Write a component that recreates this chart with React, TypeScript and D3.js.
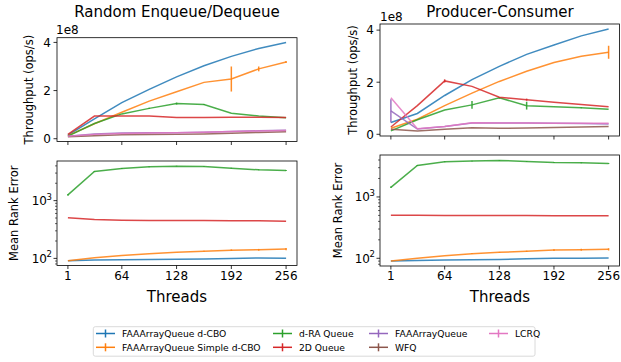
import React from "react";
import * as d3 from "d3";

// ---------- data ----------
const threads = [1, 32, 64, 96, 128, 160, 192, 224, 256];
const xTicks = [1, 64, 128, 192, 256];

const seriesNames = [
  "FAAArrayQueue d-CBO",
  "FAAArrayQueue Simple d-CBO",
  "d-RA Queue",
  "2D Queue",
  "FAAArrayQueue",
  "WFQ",
  "LCRQ",
];
const seriesColors = ["#1f77b4", "#ff7f0e", "#2ca02c", "#d62728", "#9467bd", "#8c564b", "#e377c2"];

// Throughput (x1e8 ops/s) — Random Enqueue/Dequeue
const tpRandBlue = [0.15, 0.82, 1.5, 2.05, 2.57, 3.03, 3.42, 3.75, 4.0];
const tpRandOrange = [0.13, 0.62, 1.1, 1.56, 1.95, 2.34, 2.48, 2.9, 3.19];
const tpRandOrangeErr = [0, 0, 0, 0, 0, 0, 0.52, 0.1, 0.04];
const tpRandGreen = [0.11, 0.63, 1.03, 1.26, 1.46, 1.42, 1.06, 0.94, 0.87];
const tpRandGreenErr = [0, 0, 0, 0.03, 0.04, 0.02, 0, 0, 0];
const tpRandRed = [0.18, 0.94, 0.94, 0.94, 0.88, 0.88, 0.89, 0.89, 0.88];
const tpRandPurple = [0.1, 0.2, 0.24, 0.25, 0.25, 0.27, 0.3, 0.33, 0.35];
const tpRandBrown = [0.08, 0.12, 0.16, 0.17, 0.18, 0.2, 0.23, 0.26, 0.29];
const tpRandPink = [0.1, 0.18, 0.22, 0.24, 0.25, 0.27, 0.3, 0.32, 0.34];

// Throughput (x1e8 ops/s) — Producer-Consumer
const tpProdBlue = [0.45, 0.8, 1.49, 2.1, 2.61, 3.07, 3.43, 3.78, 4.04];
const tpProdOrange = [0.23, 0.58, 1.1, 1.58, 2.03, 2.42, 2.76, 3.0, 3.15];
const tpProdOrangeErr = [0, 0, 0, 0, 0, 0, 0, 0, 0.25];
const tpProdGreen = [0.13, 0.56, 0.93, 1.13, 1.4, 1.1, 1.06, 1.02, 0.96];
const tpProdGreenErr = [0, 0, 0, 0.15, 0.03, 0.15, 0, 0.02, 0];
const tpProdRed = [0.28, 1.1, 2.05, 1.84, 1.42, 1.33, 1.23, 1.14, 1.06];
const tpProdRedErr = [0, 0, 0.06, 0, 0, 0.04, 0, 0, 0];
const tpProdPurple = [0.9, 0.2, 0.3, 0.43, 0.43, 0.43, 0.42, 0.41, 0.4];
const tpProdPurpleErr = [0.45, 0, 0, 0, 0, 0, 0, 0, 0];
const tpProdBrown = [0.19, 0.13, 0.19, 0.25, 0.23, 0.24, 0.26, 0.28, 0.3];
const tpProdPink = [1.4, 0.21, 0.3, 0.44, 0.43, 0.43, 0.42, 0.42, 0.42];

// Mean rank error — Random Enqueue/Dequeue
const mreRandBlue = [91, 94, 95, 96, 97, 98, 100, 102, 101];
const mreRandOrange = [91, 103, 112, 120, 128, 133, 139, 141, 145];
const mreRandOrangeErr = [0, 0, 0, 0, 0, 2, 4, 5, 6];
const mreRandGreen = [1260, 3200, 3600, 3850, 3960, 3900, 3650, 3420, 3320];
const mreRandGreenErr = [40, 60, 60, 60, 60, 60, 60, 60, 60];
const mreRandRed = [503, 470, 457, 455, 452, 452, 450, 448, 440];

// Mean rank error — Producer-Consumer
const mreProdBlue = [90.5, 92, 94, 95, 96, 98, 100, 100, 101];
const mreProdOrange = [90.5, 100, 110, 119, 125, 130, 136, 138, 140];
const mreProdOrangeErr = [0, 0, 0, 2, 2, 3, 5, 5, 6];
const mreProdGreen = [1435, 3260, 3740, 3840, 3935, 3790, 3650, 3600, 3515];
const mreProdGreenErr = [40, 60, 60, 60, 60, 60, 60, 60, 60];
const mreProdRed = [505, 503, 500, 499, 498, 497, 495, 493, 492];

type Series = { color: string; y: number[]; err?: number[] };

const FONT = "DejaVu Sans, Liberation Sans, sans-serif";

const tpRand: Series[] = [
  { color: seriesColors[0], y: tpRandBlue },
  { color: seriesColors[1], y: tpRandOrange, err: tpRandOrangeErr },
  { color: seriesColors[2], y: tpRandGreen, err: tpRandGreenErr },
  { color: seriesColors[3], y: tpRandRed },
  { color: seriesColors[4], y: tpRandPurple },
  { color: seriesColors[5], y: tpRandBrown },
  { color: seriesColors[6], y: tpRandPink },
];
const tpProd: Series[] = [
  { color: seriesColors[0], y: tpProdBlue },
  { color: seriesColors[1], y: tpProdOrange, err: tpProdOrangeErr },
  { color: seriesColors[2], y: tpProdGreen, err: tpProdGreenErr },
  { color: seriesColors[3], y: tpProdRed, err: tpProdRedErr },
  { color: seriesColors[4], y: tpProdPurple, err: tpProdPurpleErr },
  { color: seriesColors[5], y: tpProdBrown },
  { color: seriesColors[6], y: tpProdPink },
];
const mreRand: Series[] = [
  { color: seriesColors[0], y: mreRandBlue },
  { color: seriesColors[1], y: mreRandOrange, err: mreRandOrangeErr },
  { color: seriesColors[2], y: mreRandGreen, err: mreRandGreenErr },
  { color: seriesColors[3], y: mreRandRed },
];
const mreProd: Series[] = [
  { color: seriesColors[0], y: mreProdBlue },
  { color: seriesColors[1], y: mreProdOrange, err: mreProdOrangeErr },
  { color: seriesColors[2], y: mreProdGreen, err: mreProdGreenErr },
  { color: seriesColors[3], y: mreProdRed },
];

type Box = { x0: number; x1: number; y0: number; y1: number };

function Panel({
  box,
  series,
  log,
  showXLabels,
}: {
  box: Box;
  series: Series[];
  log: boolean;
  showXLabels: boolean;
}) {
  const xm = (256 - 1) * 0.05;
  const x = d3.scaleLinear().domain([1 - xm, 256 + xm]).range([box.x0, box.x1]);
  let lo = Infinity,
    hi = -Infinity;
  series.forEach((s) =>
    s.y.forEach((v, i) => {
      const e = s.err ? s.err[i] : 0;
      lo = Math.min(lo, v - e);
      hi = Math.max(hi, v + e);
    })
  );
  let y: any;
  if (log) {
    const a = Math.log10(lo),
      b = Math.log10(hi);
    const m = (b - a) * 0.05;
    y = d3.scaleLog().domain([Math.pow(10, a - m), Math.pow(10, b + m)]).range([box.y1, box.y0]);
  } else {
    const m = (hi - lo) * 0.05;
    y = d3.scaleLinear().domain([lo - m, hi + m]).range([box.y1, box.y0]);
  }
  const line = d3
    .line<number>()
    .x((_, i) => x(threads[i]))
    .y((v) => y(v));

  const [dlo, dhi] = y.domain();
  const majors: number[] = [];
  const minors: number[] = [];
  if (log) {
    for (let k = 0; k < 6; k++) {
      for (let j = 1; j < 10; j++) {
        const v = j * Math.pow(10, k);
        if (v >= dlo && v <= dhi) (j === 1 ? majors : minors).push(v);
      }
    }
  } else {
    [0, 2, 4].forEach((v) => {
      if (v >= dlo && v <= dhi) majors.push(v);
    });
  }

  return (
    <g>
      {series.map((s, si) => (
        <g key={si}>
          <path d={line(s.y) || ""} fill="none" stroke={s.color} strokeWidth={1.5} strokeOpacity={0.85} />
          {s.err &&
            s.y.map((v, i) =>
              s.err![i] > 0 ? (
                <line
                  key={i}
                  x1={x(threads[i])}
                  x2={x(threads[i])}
                  y1={y(v - s.err![i])}
                  y2={y(v + s.err![i])}
                  stroke={s.color}
                  strokeWidth={1.5}
                  strokeOpacity={0.9}
                />
              ) : null
            )}
        </g>
      ))}
      <rect
        x={box.x0}
        y={box.y0}
        width={box.x1 - box.x0}
        height={box.y1 - box.y0}
        fill="none"
        stroke="#000"
        strokeWidth={0.8}
      />
      {xTicks.map((t) => (
        <g key={t}>
          <line x1={x(t)} x2={x(t)} y1={box.y1} y2={box.y1 + 3.5} stroke="#000" strokeWidth={0.8} />
          {showXLabels && (
            <text x={x(t)} y={box.y1 + 14} fontSize={12} textAnchor="middle" fontFamily={FONT}>
              {t}
            </text>
          )}
        </g>
      ))}
      {majors.map((v) => (
        <g key={"M" + v}>
          <line x1={box.x0 - 3.5} x2={box.x0} y1={y(v)} y2={y(v)} stroke="#000" strokeWidth={0.8} />
          {log ? (
            <text x={box.x0 - 10} y={y(v) + 4.5} fontSize={12} textAnchor="end" fontFamily={FONT}>
              10
            </text>
          ) : (
            <text x={box.x0 - 6} y={y(v) + 4.3} fontSize={12} textAnchor="end" fontFamily={FONT}>
              {v}
            </text>
          )}
          {log && (
            <text x={box.x0 - 5} y={y(v) - 1} fontSize={8.5} textAnchor="end" fontFamily={FONT}>
              {Math.round(Math.log10(v))}
            </text>
          )}
        </g>
      ))}
      {minors.map((v) => (
        <line key={"m" + v} x1={box.x0 - 2} x2={box.x0} y1={y(v)} y2={y(v)} stroke="#000" strokeWidth={0.6} />
      ))}
    </g>
  );
}

const legendCols = [96, 273, 369, 489];
const legendRows = [333.5, 347.3];

export default function App() {
  const TL: Box = { x0: 57, x1: 297, y0: 37.7, y1: 141.5 };
  const TR: Box = { x0: 380, x1: 619.5, y0: 24, y1: 136 };
  const BL: Box = { x0: 57, x1: 297, y0: 161, y1: 265.5 };
  const BR: Box = { x0: 380, x1: 619.5, y0: 155, y1: 266 };
  return (
    <svg width={621} height={362} style={{ position: "absolute", left: 0, top: 0, background: "#fff" }} fontFamily={FONT}>
      <rect width={621} height={362} fill="#fff" />
      <text x={177} y={17} fontSize={15} textAnchor="middle">Random Enqueue/Dequeue</text>
      <text x={500} y={17} fontSize={15} textAnchor="middle">Producer-Consumer</text>

      <Panel box={TL} series={tpRand} log={false} showXLabels={false} />
      <Panel box={TR} series={tpProd} log={false} showXLabels={false} />
      <Panel box={BL} series={mreRand} log={true} showXLabels={true} />
      <Panel box={BR} series={mreProd} log={true} showXLabels={true} />

      <text x={56} y={34} fontSize={12}>1e8</text>
      <text x={380} y={21} fontSize={12}>1e8</text>

      <text transform={`translate(33,${(TL.y0 + TL.y1) / 2}) rotate(-90)`} fontSize={11.5} textAnchor="middle">
        Throughput (ops/s)
      </text>
      <text transform={`translate(357,${(TR.y0 + TR.y1) / 2}) rotate(-90)`} fontSize={11.5} textAnchor="middle">
        Throughput (ops/s)
      </text>
      <text transform={`translate(18,${(BL.y0 + BL.y1) / 2}) rotate(-90)`} fontSize={11.5} textAnchor="middle">
        Mean Rank Error
      </text>
      <text transform={`translate(342,${(BR.y0 + BR.y1) / 2}) rotate(-90)`} fontSize={11.5} textAnchor="middle">
        Mean Rank Error
      </text>

      <text x={177} y={302} fontSize={15} textAnchor="middle">Threads</text>
      <text x={500} y={302} fontSize={15} textAnchor="middle">Threads</text>

      <rect x={93.3} y={326.7} width={441.7} height={29.5} rx={2} fill="#fff" stroke="#d0d0d0" strokeWidth={0.8} />
      {seriesNames.map((name, i) => {
        const col = Math.floor(i / 2);
        const row = i % 2;
        const lx = legendCols[col];
        const ly = legendRows[row];
        return (
          <g key={name}>
            <line x1={lx} x2={lx + 19} y1={ly} y2={ly} stroke={seriesColors[i]} strokeWidth={1.5} />
            <line x1={lx + 9.5} x2={lx + 9.5} y1={ly - 4} y2={ly + 4} stroke={seriesColors[i]} strokeWidth={1.5} />
            <text x={lx + 26} y={ly + 3.3} fontSize={9.2}>{name}</text>
          </g>
        );
      })}
    </svg>
  );
}
